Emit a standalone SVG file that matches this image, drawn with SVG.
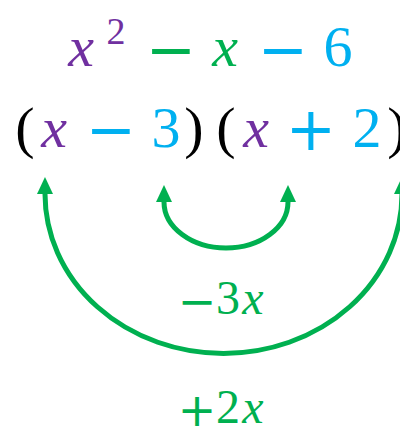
<svg xmlns="http://www.w3.org/2000/svg" width="400" height="433" viewBox="0 0 400 433">
<defs>
<style>
text{font-family:"Liberation Serif","DejaVu Serif",serif;text-anchor:middle}
.m{font-size:58px}
.s{font-size:48px}
.o{font-family:"DejaVu Sans","Liberation Sans",sans-serif;font-size:60px}
.os{font-family:"DejaVu Sans","Liberation Sans",sans-serif;font-size:46px}
.i{font-style:italic}
.p{fill:#7030A0}
.g{fill:#00B050}
.b{fill:#00B0F0}
.k{fill:#000}
.arc{fill:none;stroke:#00B050;stroke-width:5}
</style>
<marker id="ah" markerUnits="userSpaceOnUse" markerWidth="18" markerHeight="16" refX="0" refY="8" orient="auto-start-reverse" viewBox="0 0 18 16">
<path d="M0,0 L17,8 L0,16 z" fill="#00B050"/>
</marker>
</defs>
<g id="expr-top">
<text class="m i p" x="81" y="66">x</text>
<text class="p" x="116" y="44" font-size="38">2</text>
<text class="o g" x="171" y="70">−</text>
<text class="m i g" x="225" y="66">x</text>
<text class="o b" x="283" y="70">−</text>
<text class="m b" x="338" y="66">6</text>
</g>
<g id="expr-factored">
<text class="m k" x="25" y="147">(</text>
<text class="m i p" x="54" y="147">x</text>
<text class="o b" x="111" y="150">−</text>
<text class="m b" x="166" y="147">3</text>
<text class="m k" x="194" y="147">)</text>
<text class="m k" x="226" y="147">(</text>
<text class="m i p" x="256" y="147">x</text>
<text class="o b" x="311" y="150">+</text>
<text class="m b" x="367" y="147">2</text>
<text class="m k" x="397" y="147">)</text>
</g>
<g id="connectors">
<path class="arc" d="M 164 202 A 62 46 0 0 0 288 202" marker-start="url(#ah)" marker-end="url(#ah)"/>
<path class="arc" d="M 45 194 A 178 159 0 0 0 402 194" marker-start="url(#ah)" marker-end="url(#ah)"/>
</g>
<g id="label-inner">
<text class="os g" x="197" y="317">−</text>
<text class="s g" x="228" y="314">3</text>
<text class="s i g" x="253" y="314">x</text>
</g>
<g id="label-outer">
<text class="os g" x="197" y="426">+</text>
<text class="s g" x="228" y="423">2</text>
<text class="s i g" x="253" y="423">x</text>
</g>
</svg>
